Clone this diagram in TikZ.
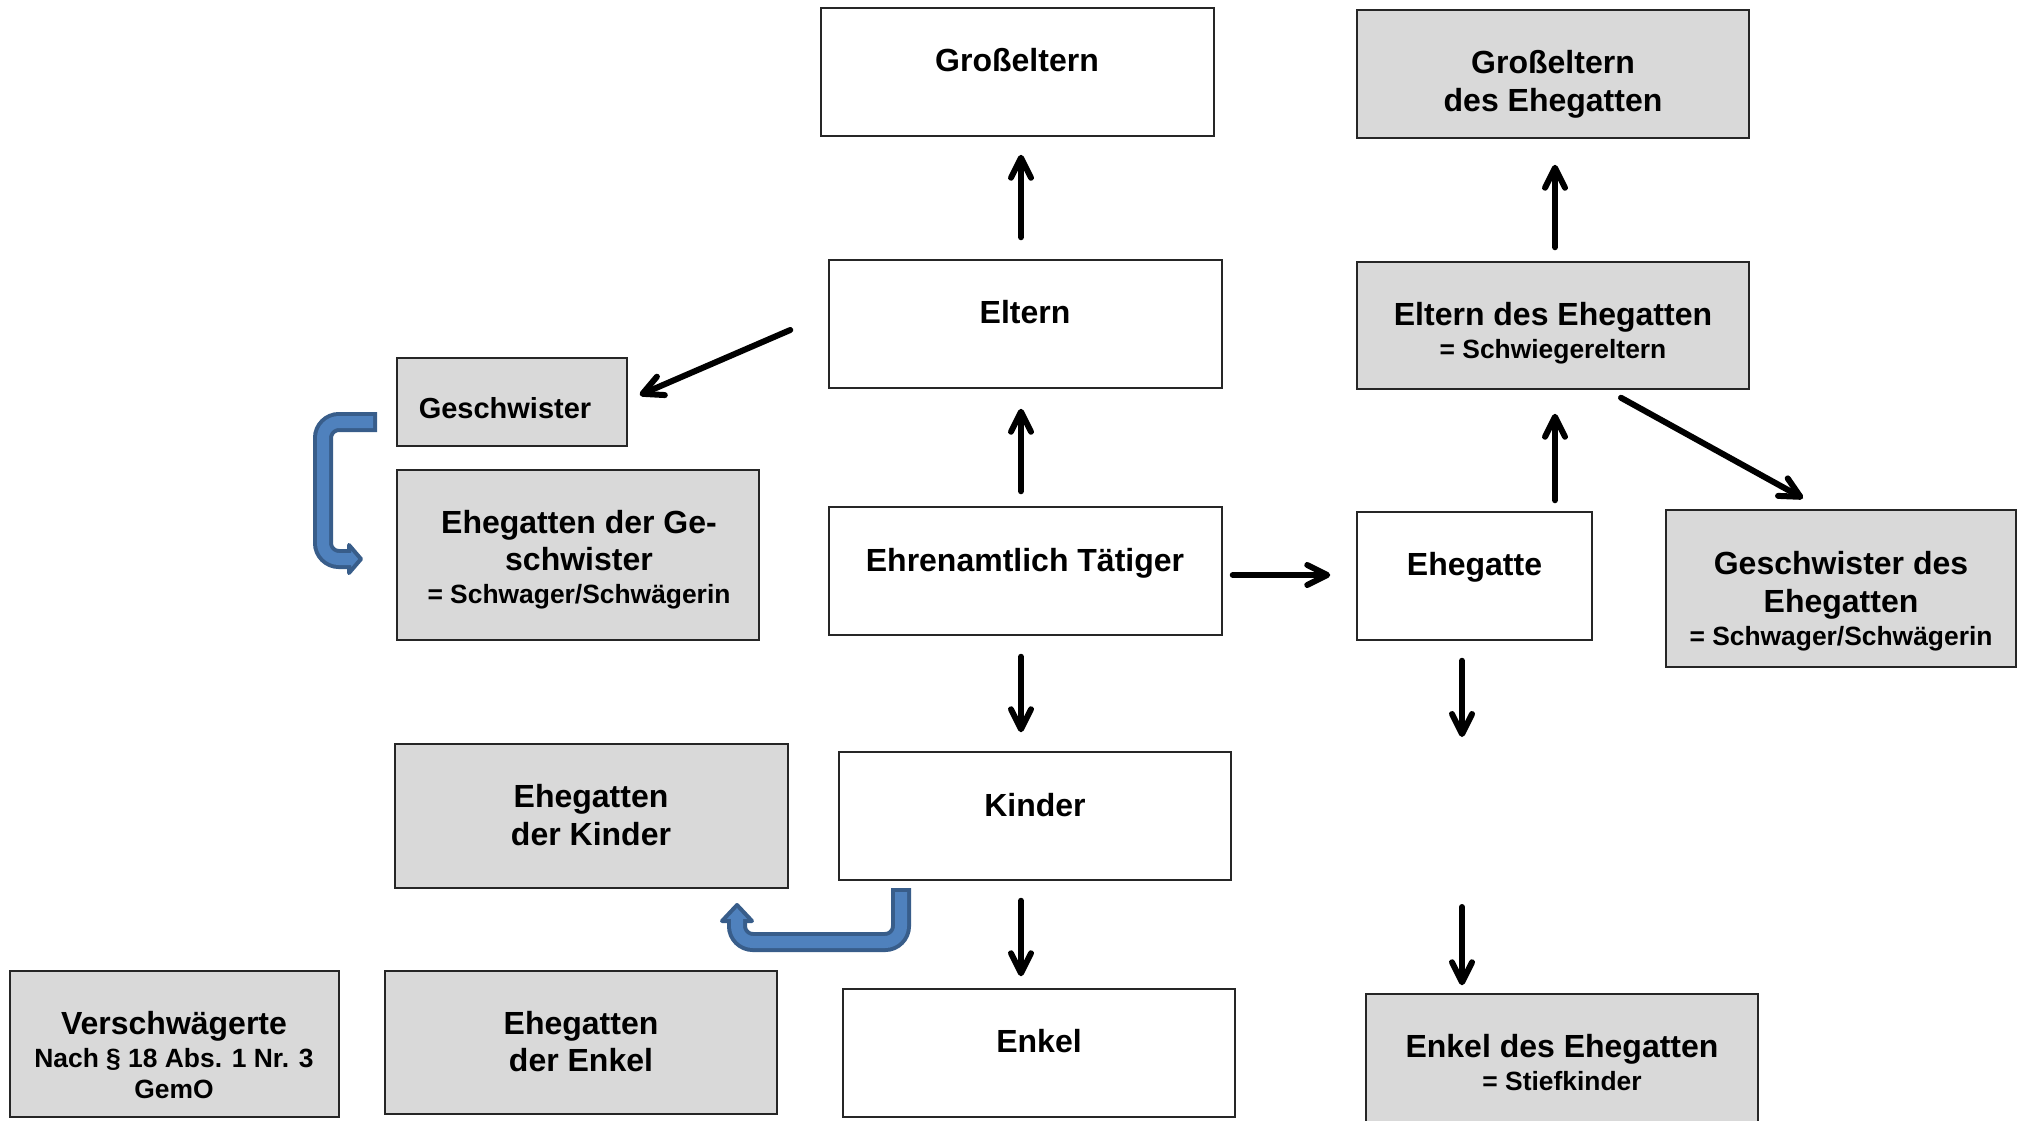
\documentclass[tikz,border=0pt]{standalone}
\usepackage{fontspec}
\setmainfont{Liberation Sans}
\usetikzlibrary{arrows.meta,calc}
\definecolor{boxgray}{HTML}{D9D9D9}
\definecolor{bluefill}{HTML}{4F81BD}
\definecolor{blueline}{HTML}{385D8A}
\begin{document}
\begin{tikzpicture}[x=0.5pt,y=-0.5pt,
  box/.style={draw=black!85, line width=0.75pt, inner sep=0pt},
  wbox/.style={box, fill=white},
  gbox/.style={box, fill=boxgray},
  big/.style={font=\fontsize{16pt}{19pt}\selectfont\bfseries, anchor=base, inner sep=0pt},
  mid/.style={font=\fontsize{14.5pt}{17pt}\selectfont\bfseries, anchor=base, inner sep=0pt},
  small/.style={font=\fontsize{13.2pt}{16pt}\selectfont\bfseries, anchor=base, inner sep=0pt},
  arr/.style={line width=3pt, line cap=round, -{Straight Barb[length=10pt,width=10pt,round]}},
  bandout/.style={line width=10pt, draw=blueline, rounded corners=8pt},
  bandin/.style={line width=6pt, draw=bluefill, rounded corners=8pt},
  bhead/.style={fill=bluefill, draw=blueline, line width=2pt, line join=round},
]
\useasboundingbox (0,0) rectangle (2024,1120);

% boxes
\node[wbox, minimum width=196.5pt, minimum height=64pt] (gross)    at (1017.5,72) {};
\node[gbox, minimum width=196pt,   minimum height=64pt] (grossE)   at (1553,74) {};
\node[wbox, minimum width=196.5pt, minimum height=64pt] (eltern)   at (1025.5,324) {};
\node[gbox, minimum width=196pt,   minimum height=63.5pt] (elternE) at (1553,325.5) {};
\node[gbox, minimum width=115pt,   minimum height=44pt] (gesch)    at (512,402) {};
\node[gbox, minimum width=181pt,   minimum height=85pt] (ehegesch) at (578,555) {};
\node[wbox, minimum width=196.5pt, minimum height=64pt] (ehren)    at (1025.5,571) {};
\node[wbox, minimum width=117.5pt, minimum height=64pt] (ehegatte) at (1474.5,576) {};
\node[gbox, minimum width=175pt,   minimum height=78.5pt] (geschE) at (1841,588.5) {};
\node[wbox, minimum width=196pt,   minimum height=64pt] (kinder)   at (1035,816) {};
\node[gbox, minimum width=196.5pt, minimum height=72pt] (ehekinder) at (591.5,816) {};
\node[wbox, minimum width=196pt,   minimum height=64pt] (enkel)    at (1039,1053) {};
\node[gbox, minimum width=196pt,   minimum height=71.5pt] (eheenkel) at (581,1042.5) {};
\node[gbox, minimum width=164.5pt, minimum height=73pt] (versch)   at (174.5,1044) {};
\node[gbox, minimum width=196pt,   minimum height=68pt] (enkelE)   at (1562,1062) {};

% texts
\node[big] (tgross) at (1017,71) {Großeltern};
\node[big] (tgrossE1) at (1553,73) {Großeltern};
\node[big] (tgrossE2) at (1553,111) {des Ehegatten};
\node[big] (teltern) at (1025,323) {Eltern};
\node[big] (telternE1) at (1553,325) {Eltern des Ehegatten};
\node[small] (telternE2) at (1553,358) {= Schwiegereltern};
\node[mid] (tgesch) at (505,418) {Geschwister};
\node[big] (tehegesch1) at (579,533) {Ehegatten der Ge-};
\node[big] (tehegesch2) at (579,570) {schwister};
\node[small] (tehegesch3) at (579,603) {= Schwager/Schwägerin};
\node[big] (tehren) at (1025,571) {Ehrenamtlich Tätiger};
\node[big] (tehegatte) at (1474.5,575) {Ehegatte};
\node[big] (tgeschE1) at (1841,574) {Geschwister des};
\node[big] (tgeschE2) at (1841,612) {Ehegatten};
\node[small] (tgeschE3) at (1841,645) {= Schwager/Schwägerin};
\node[big] (tkinder) at (1035,816) {Kinder};
\node[big] (tehekinder1) at (591,807) {Ehegatten};
\node[big] (tehekinder2) at (591,845) {der Kinder};
\node[big] (tenkel) at (1039,1052) {Enkel};
\node[big] (teheenkel1) at (581,1034) {Ehegatten};
\node[big] (teheenkel2) at (581,1071) {der Enkel};
\node[big] (tversch1) at (174,1034) {Verschwägerte};
\node[small] (tversch2) at (174,1067) {Nach § 18 Abs. 1 Nr. 3};
\node[small] (tversch3) at (174,1098) {GemO};
\node[big] (tenkelE1) at (1562,1057) {Enkel des Ehegatten};
\node[small] (tenkelE2) at (1562,1090) {= Stiefkinder};

% helper coordinates
\coordinate (colA) at (1021,0);
\coordinate (colB) at (1555,0);
\coordinate (colC) at (1462,0);
\coordinate (jEnd) at (1462,737);
\coordinate (kStart) at (1462,907);

% black arrows
\draw[arr, shorten <=11pt, shorten >=9pt] (eltern.north -| colA) -- (gross.south -| colA);
\draw[arr, shorten <=7.5pt, shorten >=10pt] (ehren.north -| colA) -- (eltern.south -| colA);
\draw[arr] ($(eltern.west)+(-38,6)$) -- ($(gesch.east)+(12,-7)$);
\draw[arr] ($(ehren.east)+(10,4)$) -- ($(ehegatte.west)+(-26,-1)$);
\draw[arr, shorten <=10.5pt, shorten >=9.5pt] (ehren.south -| colA) -- (kinder.north -| colA);
\draw[arr, shorten <=10pt, shorten >=6pt] (kinder.south -| colA) -- (enkel.north -| colA);
\draw[arr, shorten <=7pt, shorten >=13pt] (elternE.north -| colB) -- (grossE.south -| colB);
\draw[arr, shorten <=5.5pt, shorten >=12pt] (ehegatte.north -| colB) -- (elternE.south -| colB);
\draw[arr] ($(elternE.south)+(68,8)$) -- ($(geschE.north)+(-38,-11)$);
\draw[arr, shorten <=10pt] (ehegatte.south -| colC) -- (jEnd);
\draw[arr, shorten >=4pt] (kStart) -- (enkelE.north -| colC);

% blue bent arrow: Geschwister -> Ehegatten der Geschwister
\draw[bandout] (377,422) -- (323,422) -- (323,559) -- (349,559);
\filldraw[bhead] (349,545) -- (361,559) -- (349,573) -- cycle;
\draw[bandin] (373,422) -- (323,422) -- (323,559) -- (352,559);

% blue bent arrow: Kinder -> Ehegatten der Kinder
\draw[bandout] (901,888) -- (901,942) -- (737,942) -- (737,922);
\filldraw[bhead] (722,921) -- (737,905) -- (752,921) -- cycle;
\draw[bandin] (901,892) -- (901,942) -- (737,942) -- (737,918);
\end{tikzpicture}
\end{document}
